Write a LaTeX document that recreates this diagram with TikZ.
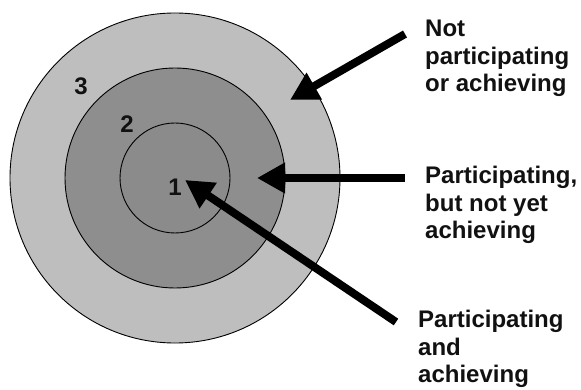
\documentclass[tikz,border=0pt]{standalone}
\usepackage{fontspec}
\setmainfont{Liberation Sans}
\usetikzlibrary{arrows.meta}
\definecolor{ringlight}{HTML}{BEBEBE}
\definecolor{ringmid}{HTML}{8E8E8E}
\definecolor{ringin}{HTML}{8B8B8B}
\definecolor{inkc}{HTML}{111111}
\tikzset{
  ring/.style={circle, draw=black, line width=0.9pt, inner sep=0pt},
  numlbl/.style={font=\fontsize{24}{28}\selectfont\bfseries, text=inkc, inner sep=0pt},
  desc/.style={font=\fontsize{24}{27.5}\selectfont\bfseries, text=inkc, align=left, anchor=north west, inner sep=0pt},
  fatarrow/.style={line width=8pt, draw=black, -{Triangle[length=28pt,width=29pt]}}
}
\begin{document}
\begin{tikzpicture}[x=1pt,y=-1pt]
\useasboundingbox (0,0) rectangle (581,390);
\fill[white] (0,0) rectangle (581,390);
\node[ring, fill=ringlight, minimum size=330pt] (outer) at (175,178) {};
\node[ring, fill=ringmid, minimum size=220pt] (middle) at (175,178) {};
\node[ring, fill=ringin, minimum size=110pt] (inner) at (175,178) {};
\node[numlbl] (n3) at (81,86) {3};
\node[numlbl] (n2) at (127,124) {2};
\node[numlbl] (n1) at (175,187) {1};
\node[desc] (t1) at (425,20) {Not\\participating\\or achieving};
\node[desc] (t2) at (425,166) {Participating,\\but not yet\\achieving};
\node[desc] (t3) at (418,310) {Participating\\and\\achieving};
\coordinate (a1s) at (405,34);
\coordinate (a1e) at (290,100);
\coordinate (a2s) at (405,178);
\coordinate (a2e) at (257,178);
\coordinate (a3s) at (396,322);
\coordinate (a3e) at (185,180);
\draw[fatarrow] (a1s) -- (a1e);
\draw[fatarrow] (a2s) -- (a2e);
\draw[fatarrow] (a3s) -- (a3e);
\end{tikzpicture}
\end{document}
